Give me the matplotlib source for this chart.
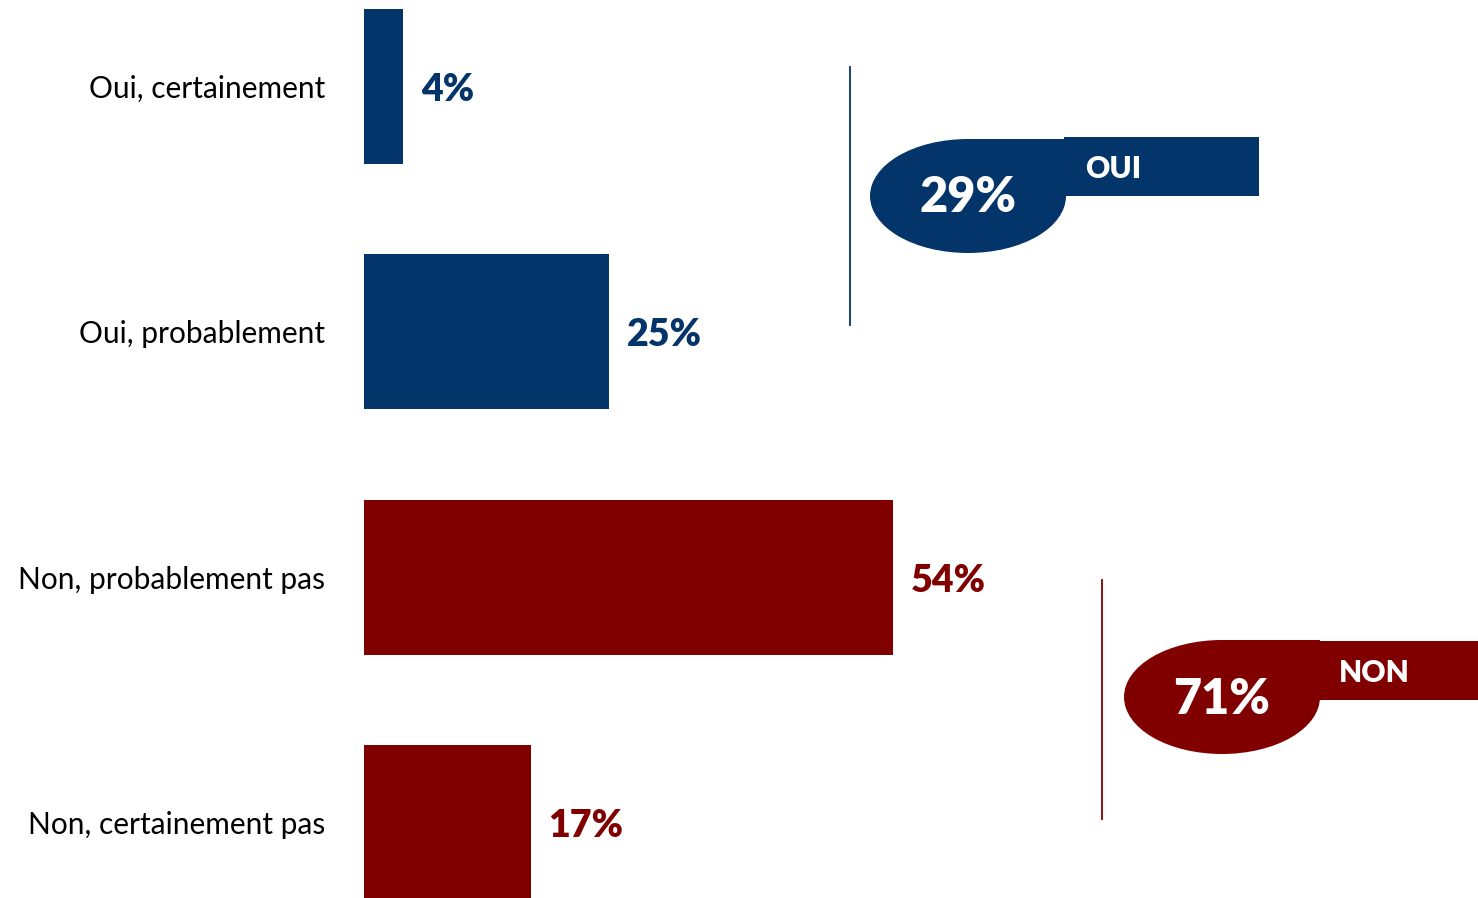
import matplotlib
matplotlib.use("Agg")
import matplotlib.pyplot as plt
from matplotlib.patches import Ellipse, Rectangle

categories = ["Oui, certainement", "Oui, probablement", "Non, probablement pas", "Non, certainement pas"]
values = [4, 25, 54, 17]
value_labels = ["4%", "25%", "54%", "17%"]
groups = ["OUI", "NON"]
group_totals = ["29%", "71%"]

NAVY = "#03356A"
RED = "#800000"
bar_colors = [NAVY, NAVY, RED, RED]
group_colors = [NAVY, RED]

plt.rcParams['font.family'] = ['Lato', 'DejaVu Sans']

W, H = 1478, 898
fig = plt.figure(figsize=(W / 100, H / 100), dpi=100)

# bar axes: left edge at px 364, right at figure edge
px_per_pct = 9.8
spacing = 245.3
ax = fig.add_axes([364 / W, 0, 1 - 364 / W, 1])
ypos = list(range(len(categories)))
ax.barh(ypos, values, height=155 / spacing, color=bar_colors)
ax.set_xlim(0, (W - 364) / px_per_pct)
ax.set_ylim((H - 86.5) / spacing, -86.5 / spacing)
for y, v, lab, c in zip(ypos, values, value_labels, bar_colors):
    ax.text(v + 18 / px_per_pct, y + 0.015, lab, color=c, fontsize=27, fontweight='heavy',
            va='center', ha='left')
ax.set_yticks(ypos)
ax.set_yticklabels(categories, fontsize=21.5)
ax.tick_params(axis='y', length=0, pad=28)
ax.set_xticks([])
for s in ax.spines.values():
    s.set_visible(False)

# overlay in pixel coordinates for the callouts
ov = fig.add_axes([0, 0, 1, 1], zorder=5)
ov.set_xlim(0, W)
ov.set_ylim(H, 0)
ov.axis('off')
ov.patch.set_alpha(0)

callouts = [
    dict(line_x=850, line_y=(67, 325), cx=968, cy=196, rect=(1064, 137, 195, 59)),
    dict(line_x=1102, line_y=(580, 819), cx=1222, cy=697, rect=(1318, 641, 170, 59)),
]
for g, tot, col, co in zip(groups, group_totals, group_colors, callouts):
    ov.plot([co['line_x'], co['line_x']], co['line_y'], color=col, lw=1.3)
    ov.add_patch(Ellipse((co['cx'], co['cy']), 196, 114, color=col, lw=0))
    ov.add_patch(Rectangle((co['cx'], co['cy'] - 57), 98, 57, color=col, lw=0))
    rx, ry, rw, rh = co['rect']
    ov.add_patch(Rectangle((rx, ry), rw, rh, color=col, lw=0))
    ov.text(co['cx'], co['cy'] + 2, tot, color='white', fontsize=35, fontweight='heavy',
            ha='center', va='center')
    ov.text(rx + 21, ry + rh / 2 + 2, g, color='white', fontsize=21.5, fontweight='heavy',
            ha='left', va='center')

fig.savefig("out.png", dpi=100)
